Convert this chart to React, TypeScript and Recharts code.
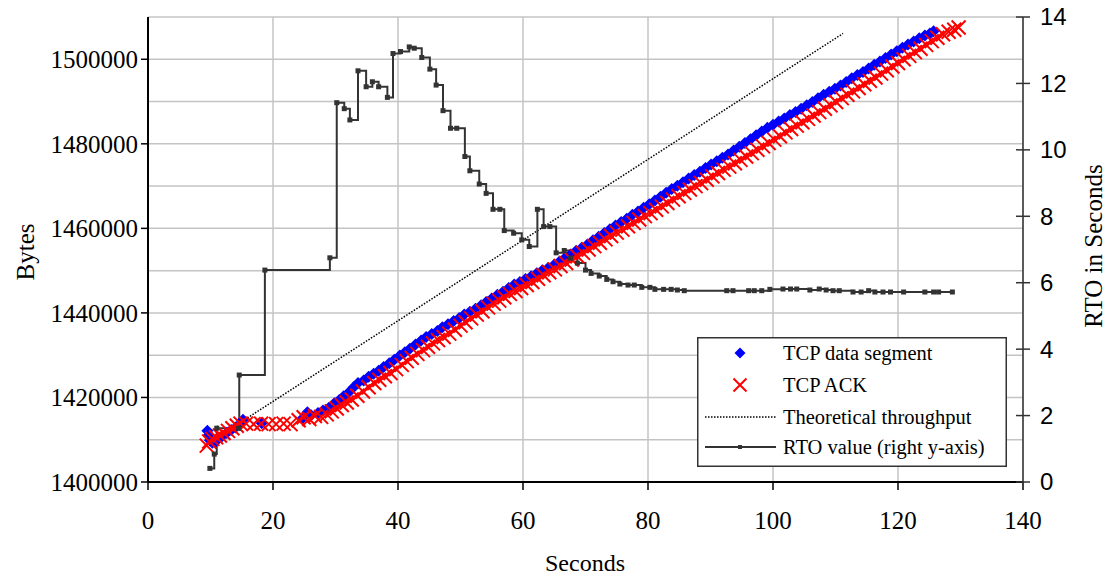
import React from "react";
import {
  ComposedChart,
  Scatter,
  Line,
  XAxis,
  YAxis,
  CartesianGrid,
  Legend,
} from "recharts";

// TCP data segments (seconds, bytes)
const segTime = [
  9.5, 9.7, 9.9, 10.3, 10.8, 11.3, 11.9, 12.6, 13.3, 14.0, 14.7, 15.2, 18.2, 24.7, 25.5, 26.1,
  27.2, 28.0, 28.9, 29.8, 30.6, 31.3, 32.1, 32.9, 33.6, 34.5, 35.3, 36.1, 36.9, 37.7, 38.6, 39.4,
  40.3, 41.1, 41.9, 42.8, 43.7, 44.5, 45.4, 46.3, 47.1, 48.0, 48.9, 49.8, 50.6, 51.5, 52.4, 53.3,
  54.1, 55.0, 55.9, 56.8, 57.7, 58.6, 59.5, 60.4, 61.3, 62.2, 63.1, 64.0, 64.9, 65.8, 66.7, 67.6,
  68.5, 69.4, 70.3, 71.2, 72.1, 73.0, 73.9, 74.8, 75.7, 76.6, 77.5, 78.4, 79.3, 80.2, 81.1, 82.0,
  82.9, 83.8, 84.7, 85.6, 86.5, 87.4, 88.3, 89.2, 90.1, 91.0, 91.9, 92.8, 93.7, 94.6, 95.5, 96.4,
  97.3, 98.2, 99.1, 100.0, 100.9, 101.8, 102.7, 103.6, 104.5, 105.4, 106.3, 107.2, 108.1, 109.0,
  109.9, 110.8, 111.7, 112.6, 113.5, 114.4, 115.3, 116.2, 117.1, 118.0, 118.9, 119.8, 120.7,
  121.6, 122.5, 123.4, 124.3, 125.1, 125.7,
];
const segBytes = [
  1412100, 1411000, 1409900, 1409300, 1409600, 1410300, 1410900, 1411600, 1412300, 1412900,
  1413800, 1414700, 1413900, 1415000, 1416500, 1415800, 1416300, 1416900, 1417500, 1418600,
  1419400, 1420300, 1421200, 1422400, 1423400, 1424000, 1424900, 1425600, 1426300, 1427200,
  1428100, 1428900, 1429900, 1430700, 1431500, 1432500, 1433500, 1434300, 1435000, 1435700,
  1436600, 1437300, 1438100, 1438800, 1439600, 1440300, 1441000, 1441800, 1442600, 1443400,
  1444300, 1445000, 1445900, 1446700, 1447300, 1448000, 1448700, 1449400, 1450100, 1450600,
  1451300, 1452100, 1453000, 1453800, 1454700, 1455400, 1456200, 1457200, 1458000, 1458900,
  1459800, 1460700, 1461500, 1462300, 1463200, 1464000, 1464900, 1465700, 1466600, 1467500,
  1468400, 1469300, 1470100, 1470900, 1471800, 1472600, 1473400, 1474300, 1475100, 1475900,
  1476700, 1477500, 1478400, 1479300, 1480200, 1481100, 1482000, 1482900, 1483800, 1484500,
  1485300, 1486000, 1486800, 1487500, 1488300, 1489100, 1489900, 1490800, 1491600, 1492300,
  1493000, 1493800, 1494600, 1495500, 1496300, 1497000, 1497800, 1498700, 1499500, 1500300,
  1501100, 1501900, 1502700, 1503500, 1504200, 1505000, 1505600, 1506100, 1506600,
];

// TCP ACKs (seconds, bytes)
const ackTime = [
  9.4, 9.8, 10.3, 10.9, 11.5, 12.1, 12.8, 13.5, 14.2, 14.8, 15.7, 16.9, 18.1, 19.3, 20.5, 21.7,
  22.8, 24.1, 24.9, 25.8, 26.7, 27.7, 28.6, 29.4, 30.2, 31.0, 31.8, 32.6, 33.5, 34.4, 35.3, 36.2,
  37.0, 37.9, 38.8, 39.7, 40.6, 41.4, 42.2, 43.1, 44.0, 44.8, 45.6, 46.4, 47.3, 48.2, 49.1, 50.0,
  50.8, 51.7, 52.6, 53.5, 54.4, 55.3, 56.2, 57.0, 57.9, 58.8, 59.7, 60.6, 61.5, 62.4, 63.3, 64.2,
  65.1, 66.0, 66.9, 67.8, 68.7, 69.6, 70.5, 71.4, 72.3, 73.2, 74.1, 75.0, 75.9, 76.8, 77.7, 78.6,
  79.5, 80.4, 81.3, 82.2, 83.1, 84.0, 84.9, 85.8, 86.7, 87.6, 88.5, 89.4, 90.3, 91.2, 92.1, 93.0,
  93.9, 94.8, 95.7, 96.6, 97.5, 98.4, 99.3, 100.2, 101.1, 102.0, 102.9, 103.8, 104.7, 105.6,
  106.5, 107.4, 108.3, 109.2, 110.1, 111.0, 111.9, 112.8, 113.7, 114.6, 115.5, 116.4, 117.3,
  118.2, 119.1, 120.0, 120.9, 121.8, 122.7, 123.6, 124.5, 125.4, 126.3, 127.2, 128.1, 129.0, 129.7,
];
const ackBytes = [
  1408600, 1409600, 1410200, 1410600, 1411000, 1411600, 1412100, 1412700, 1413300, 1413800,
  1413800, 1413700, 1413800, 1413700, 1413700, 1413800, 1413700, 1414600, 1415300, 1414900,
  1415600, 1415400, 1416000, 1416700, 1417400, 1418200, 1418800, 1419500, 1420400, 1421400,
  1422400, 1423400, 1424200, 1425000, 1425800, 1426700, 1427700, 1428600, 1429400, 1430300,
  1431200, 1432000, 1432800, 1433600, 1434300, 1435100, 1436000, 1437000, 1437800, 1438700,
  1439600, 1440400, 1441300, 1442200, 1442900, 1443700, 1444500, 1445200, 1445900, 1446600,
  1447300, 1448100, 1448900, 1449600, 1450300, 1451100, 1451800, 1452600, 1453400, 1454200,
  1455000, 1455800, 1456600, 1457400, 1458200, 1459000, 1459700, 1460500, 1461300, 1462100,
  1462900, 1463600, 1464400, 1465200, 1466000, 1466800, 1467600, 1468400, 1469200, 1470000,
  1470700, 1471500, 1472300, 1473100, 1473900, 1474600, 1475400, 1476200, 1477000, 1477800,
  1478600, 1479400, 1480200, 1481000, 1481800, 1482700, 1483500, 1484300, 1485100, 1485900,
  1486700, 1487500, 1488300, 1489100, 1489900, 1490800, 1491600, 1492400, 1493200, 1494100,
  1494900, 1495700, 1496600, 1497400, 1498300, 1499100, 1500000, 1500800, 1501700, 1502500,
  1503400, 1504300, 1505100, 1505900, 1506500, 1507000, 1507500,
];

// theoretical throughput line
const theoTime = [14.7, 111.2];
const theoBytes = [1414000, 1506100];

// RTO value (seconds, right axis)
const rtoTime = [
  9.9, 10.6, 11.0, 14.5, 14.6, 18.7, 29.1, 30.2, 31.4, 32.3, 33.6, 34.9, 35.9, 36.9, 38.3, 39.2,
  40.4, 41.8, 42.6, 43.8, 45.1, 46.1, 47.2, 48.4, 49.4, 50.7, 51.5, 53.0, 54.1, 55.2, 56.3, 57.0,
  58.5, 59.8, 61.0, 62.3, 63.3, 64.3, 65.3, 66.6, 67.6, 68.7, 70.0, 70.9, 72.2, 73.4, 74.4, 75.5,
  76.8, 77.8, 79.0, 80.3, 81.1, 82.5, 83.7, 84.7, 85.8, 92.6, 93.6, 96.1, 97.0, 98.2, 99.5,
  101.6, 102.8, 103.8, 105.9, 107.4, 108.5, 109.6, 110.6, 112.8, 114.1, 115.3, 116.3, 117.6,
  118.8, 120.9, 124.3, 125.7, 126.5, 128.7,
];
const rtoValue = [
  0.41, 0.84, 1.62, 1.62, 3.22, 6.38, 6.75, 11.42, 11.24, 10.9, 12.38, 11.9, 12.05, 11.9, 11.58,
  12.9, 12.96, 13.1, 13.06, 12.78, 12.43, 11.95, 11.18, 10.65, 10.65, 9.8, 9.37, 8.97, 8.69, 8.21,
  8.21, 7.57, 7.49, 7.29, 7.09, 8.21, 7.69, 7.69, 6.9, 6.97, 6.74, 6.59, 6.38, 6.28, 6.2, 6.1,
  6.03, 5.96, 5.93, 5.93, 5.86, 5.86, 5.8, 5.8, 5.8, 5.78, 5.76, 5.76, 5.76, 5.76, 5.76, 5.76,
  5.8, 5.81, 5.81, 5.81, 5.78, 5.81, 5.78, 5.76, 5.76, 5.72, 5.72, 5.76, 5.72, 5.72, 5.72, 5.72,
  5.72, 5.72, 5.72, 5.72,
];

const xTicks = [0, 20, 40, 60, 80, 100, 120, 140];
const bytesTicks = [1400000, 1420000, 1440000, 1460000, 1480000, 1500000];
const rtoTicks = [0, 2, 4, 6, 8, 10, 12, 14];
const gridBytes = [
  1400000, 1405000, 1410000, 1415000, 1420000, 1425000, 1430000, 1435000, 1440000, 1445000,
  1450000, 1455000, 1460000, 1465000, 1470000, 1475000, 1480000, 1485000, 1490000, 1495000,
  1500000, 1505000, 1510000,
];
const legendLabels = [
  "TCP data segment",
  "TCP ACK",
  "Theoretical throughput",
  "RTO value (right y-axis)",
];

const segData = segTime.map((x, i) => ({ x, y: segBytes[i] }));
const ackData = ackTime.map((x, i) => ({ x, y: ackBytes[i] }));
const theoData = theoTime.map((x, i) => ({ x, y: theoBytes[i] }));
const rtoData = rtoTime.map((x, i) => ({ x, y: rtoValue[i] }));

const SERIF = '"Liberation Serif", "Times New Roman", serif';
const SANS = '"Liberation Sans", Arial, sans-serif';

function Diamond(props: any) {
  const { cx, cy } = props;
  const r = 6;
  return (
    <polygon
      points={`${cx},${cy - r} ${cx + r},${cy} ${cx},${cy + r} ${cx - r},${cy}`}
      fill="#0000ff"
    />
  );
}

function Cross(props: any) {
  const { cx, cy } = props;
  const r = 7;
  return (
    <path
      d={`M${cx - r},${cy - r}L${cx + r},${cy + r}M${cx - r},${cy + r}L${cx + r},${cy - r}`}
      stroke="#ff0000"
      strokeWidth={2}
      fill="none"
    />
  );
}

function RtoDot(props: any) {
  const { cx, cy, index } = props;
  return <rect key={index} x={cx - 2.5} y={cy - 2.5} width={5} height={5} fill="#333" />;
}

// right axis ticks cross the axis line in the original
function RtoTick(props: any) {
  const { x, y, payload } = props;
  return (
    <g>
      <line x1={1016} x2={1030} y1={y} y2={y} stroke="#333" strokeWidth={1.5} />
      <text x={x} y={y} dy="0.35em" textAnchor="start" fontFamily={SANS} fontSize={24} fill="#000">
        {payload.value}
      </text>
    </g>
  );
}

function LegendBox() {
  const rowY = [16, 48, 80, 110];
  return (
    <svg width={310} height={130} style={{ display: "block" }}>
      <rect x={0.75} y={0.75} width={308.5} height={128.5} fill="#fff" stroke="#333" strokeWidth={1.5} />
      <polygon points={`43,${rowY[0] - 5.5} 48.5,${rowY[0]} 43,${rowY[0] + 5.5} 37.5,${rowY[0]}`} fill="#0000ff" />
      <path
        d={`M36.5,${rowY[1] - 6.5}L49.5,${rowY[1] + 6.5}M36.5,${rowY[1] + 6.5}L49.5,${rowY[1] - 6.5}`}
        stroke="#ff0000"
        strokeWidth={2}
      />
      <line x1={8} x2={79} y1={rowY[2]} y2={rowY[2]} stroke="#000" strokeWidth={1.5} strokeDasharray="1.5 1.5" />
      <line x1={8} x2={79} y1={rowY[3]} y2={rowY[3]} stroke="#333" strokeWidth={2} />
      <rect x={41} y={rowY[3] - 2} width={4} height={4} fill="#333" />
      {legendLabels.map((t, i) => (
        <text key={t} x={86} y={rowY[i]} dy="0.35em" fontFamily={SERIF} fontSize={20.5} fill="#000">
          {t}
        </text>
      ))}
    </svg>
  );
}

export default function App() {
  return (
    <div style={{ position: "absolute", left: 0, top: 0, width: 1110, height: 578, background: "#fff" }}>
      <ComposedChart width={1110} height={578} margin={{ top: 17, right: 0, bottom: 0, left: 0 }}>
        <CartesianGrid
          yAxisId="bytes"
          horizontalValues={gridBytes}
          verticalValues={xTicks}
          stroke="#c4c4c4"
          strokeWidth={1.5}
        />
        <XAxis
          type="number"
          dataKey="x"
          domain={[0, 140]}
          ticks={xTicks}
          allowDataOverflow
          height={96}
          axisLine={{ stroke: "#000", strokeWidth: 2 }}
          tickLine={{ stroke: "#000", strokeWidth: 1.5 }}
          tickSize={8}
          tickMargin={21}
          tick={{ fontSize: 25, fill: "#000", fontFamily: SERIF }}
          label={() => (
            <text x={585} y={563} textAnchor="middle" dy="0.35em" fontFamily={SERIF} fontSize={24} fill="#000">
              Seconds
            </text>
          )}
        />
        <YAxis
          yAxisId="bytes"
          domain={[1400000, 1510000]}
          ticks={bytesTicks}
          allowDataOverflow
          width={148}
          axisLine={{ stroke: "#000", strokeWidth: 2 }}
          tickLine={{ stroke: "#000", strokeWidth: 1.5 }}
          tickSize={7}
          tickMargin={3}
          tick={{ fontSize: 25, fill: "#000", fontFamily: SERIF }}
          label={() => (
            <text
              x={25}
              y={252}
              transform="rotate(-90 25 252)"
              textAnchor="middle"
              dy="0.35em"
              fontFamily={SERIF}
              fontSize={25}
              fill="#000"
            >
              Bytes
            </text>
          )}
        />
        <YAxis
          yAxisId="rto"
          orientation="right"
          domain={[0, 14]}
          ticks={rtoTicks}
          allowDataOverflow
          width={87}
          axisLine={{ stroke: "#333", strokeWidth: 1.5 }}
          tickLine={false}
          tickSize={7}
          tickMargin={10}
          tick={<RtoTick />}
          label={() => (
            <text
              x={1093}
              y={246}
              transform="rotate(-90 1093 246)"
              textAnchor="middle"
              dy="0.35em"
              fontFamily={SERIF}
              fontSize={25}
              fill="#000"
            >
              RTO in Seconds
            </text>
          )}
        />
        <Scatter
          yAxisId="bytes"
          name="TCP data segment"
          data={segData}
          dataKey="y"
          shape={<Diamond />}
          isAnimationActive={false}
        />
        <Scatter
          yAxisId="bytes"
          name="TCP ACK"
          data={ackData}
          dataKey="y"
          shape={<Cross />}
          isAnimationActive={false}
        />
        <Line
          yAxisId="bytes"
          name="Theoretical throughput"
          data={theoData}
          dataKey="y"
          type="linear"
          stroke="#000"
          strokeWidth={1.5}
          strokeDasharray="1.5 1.5"
          dot={false}
          activeDot={false}
          isAnimationActive={false}
        />
        <Line
          yAxisId="rto"
          name="RTO value (right y-axis)"
          data={rtoData}
          dataKey="y"
          type="stepAfter"
          stroke="#333"
          strokeWidth={2}
          dot={RtoDot}
          activeDot={false}
          isAnimationActive={false}
        />
        <Legend
          layout="horizontal"
          verticalAlign="middle"
          align="center"
          content={() => <LegendBox />}
          wrapperStyle={{ left: 697, top: 337, width: 310, height: 130 }}
        />
      </ComposedChart>
    </div>
  );
}
